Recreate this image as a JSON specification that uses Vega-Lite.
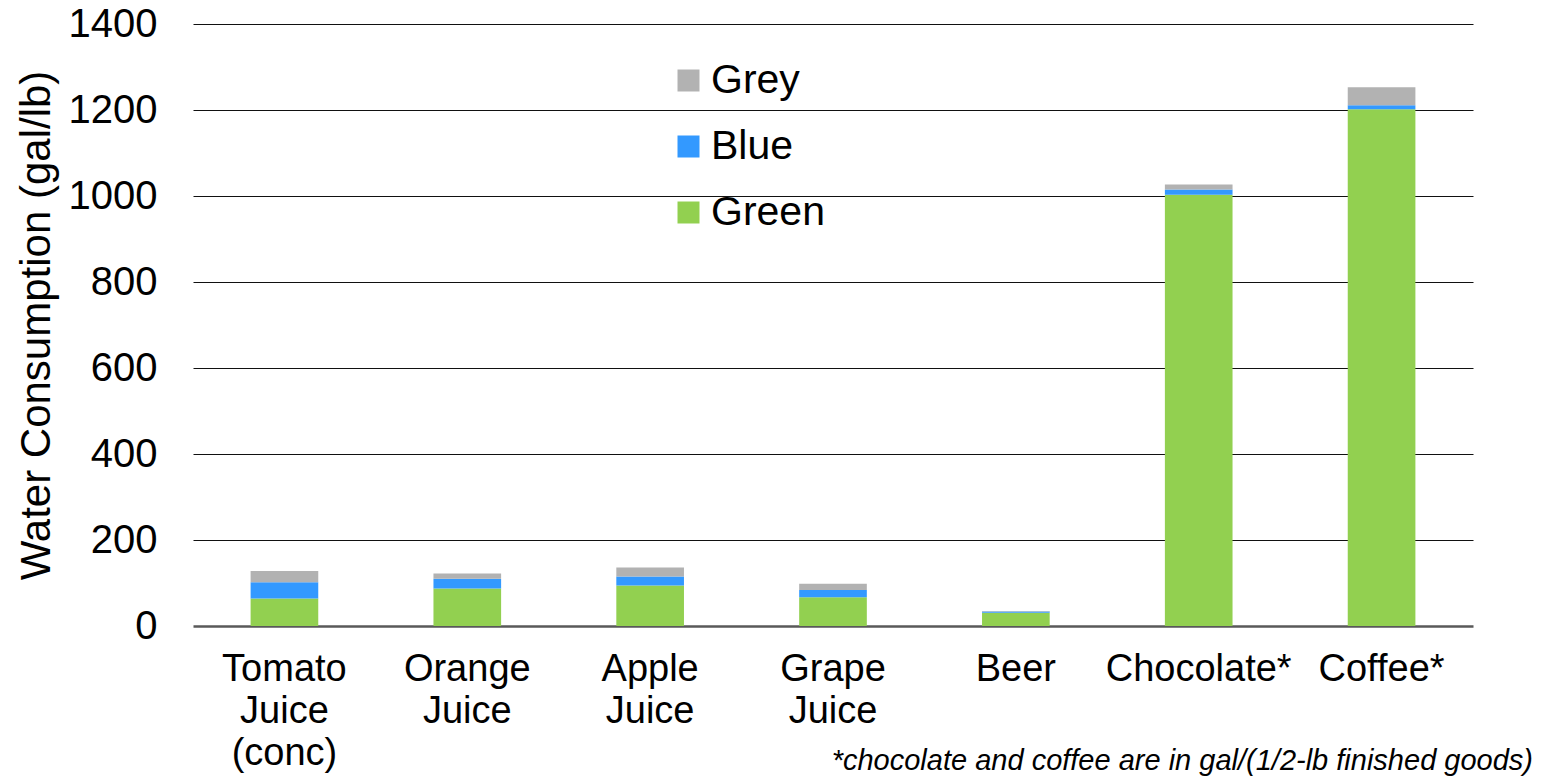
{
  "$schema": "https://vega.github.io/schema/vega-lite/v6.json",
  "width": 1280,
  "height": 602,
  "autosize": {"type": "none"},
  "padding": {"left": 193, "top": 24, "right": 74, "bottom": 153},
  "background": "white",
  "config": {
    "font": "Liberation Sans",
    "view": {"stroke": null},
    "axis": {"labelColor": "black", "titleColor": "black", "labelFont": "Liberation Sans", "titleFont": "Liberation Sans"}
  },
  "title": {
    "text": "*chocolate and coffee are in gal/(1/2-lb finished goods)",
    "orient": "bottom",
    "anchor": "end",
    "font": "Liberation Sans",
    "fontStyle": "italic",
    "fontWeight": "normal",
    "fontSize": 29,
    "color": "black",
    "offset": -25,
    "dx": 60
  },
  "data": {
    "values": [
      {"product": "Tomato Juice (conc)", "type": "Green", "value": 64},
      {"product": "Tomato Juice (conc)", "type": "Blue", "value": 38},
      {"product": "Tomato Juice (conc)", "type": "Grey", "value": 26},
      {"product": "Orange Juice", "type": "Green", "value": 87},
      {"product": "Orange Juice", "type": "Blue", "value": 23},
      {"product": "Orange Juice", "type": "Grey", "value": 12},
      {"product": "Apple Juice", "type": "Green", "value": 94},
      {"product": "Apple Juice", "type": "Blue", "value": 21},
      {"product": "Apple Juice", "type": "Grey", "value": 21},
      {"product": "Grape Juice", "type": "Green", "value": 67},
      {"product": "Grape Juice", "type": "Blue", "value": 17},
      {"product": "Grape Juice", "type": "Grey", "value": 14},
      {"product": "Beer", "type": "Green", "value": 31},
      {"product": "Beer", "type": "Blue", "value": 3},
      {"product": "Beer", "type": "Grey", "value": 1},
      {"product": "Chocolate*", "type": "Green", "value": 1003},
      {"product": "Chocolate*", "type": "Blue", "value": 12},
      {"product": "Chocolate*", "type": "Grey", "value": 12},
      {"product": "Coffee*", "type": "Green", "value": 1202},
      {"product": "Coffee*", "type": "Blue", "value": 9},
      {"product": "Coffee*", "type": "Grey", "value": 42}
    ]
  },
  "transform": [
    {"calculate": "indexof(['Green', 'Blue', 'Grey'], datum.type)", "as": "stackOrder"}
  ],
  "mark": {"type": "bar"},
  "encoding": {
    "x": {
      "field": "product",
      "type": "nominal",
      "sort": null,
      "scale": {"paddingInner": 0.63, "paddingOuter": 0.315},
      "axis": {
        "title": null,
        "labelAngle": 0,
        "labelFontSize": 38,
        "labelLineHeight": 42,
        "labelExpr": "split(datum.label, ' ')",
        "ticks": false,
        "domain": false,
        "labelPadding": 24,
        "labelLimit": 400
      }
    },
    "y": {
      "field": "value",
      "type": "quantitative",
      "stack": "zero",
      "scale": {"domain": [0, 1400]},
      "axis": {
        "title": "Water Consumption (gal/lb)",
        "titleFontSize": 42,
        "titleFontWeight": "normal",
        "titlePadding": 10,
        "values": [0, 200, 400, 600, 800, 1000, 1200, 1400],
        "format": "d",
        "labelFontSize": 40,
        "labelPadding": 36,
        "ticks": false,
        "domain": false,
        "grid": true,
        "gridColor": {"condition": {"test": "datum.value === 0", "value": "#595959"}, "value": "#111111"},
        "gridWidth": {"condition": {"test": "datum.value === 0", "value": 2.5}, "value": 1},
        "gridOpacity": 1
      }
    },
    "order": {"field": "stackOrder", "type": "quantitative", "sort": "ascending"},
    "color": {
      "field": "type",
      "type": "nominal",
      "sort": ["Grey", "Blue", "Green"],
      "scale": {"domain": ["Grey", "Blue", "Green"], "range": ["#b2b2b2", "#3399ff", "#92d050"]},
      "legend": {
        "title": null,
        "orient": "none",
        "legendX": 475,
        "legendY": 36,
        "padding": 0,
        "symbolType": "square",
        "symbolSize": 484,
        "symbolStrokeWidth": 0,
        "labelFontSize": 41,
        "labelColor": "black",
        "labelOffset": 2,
        "rowPadding": 24
      }
    }
  }
}
